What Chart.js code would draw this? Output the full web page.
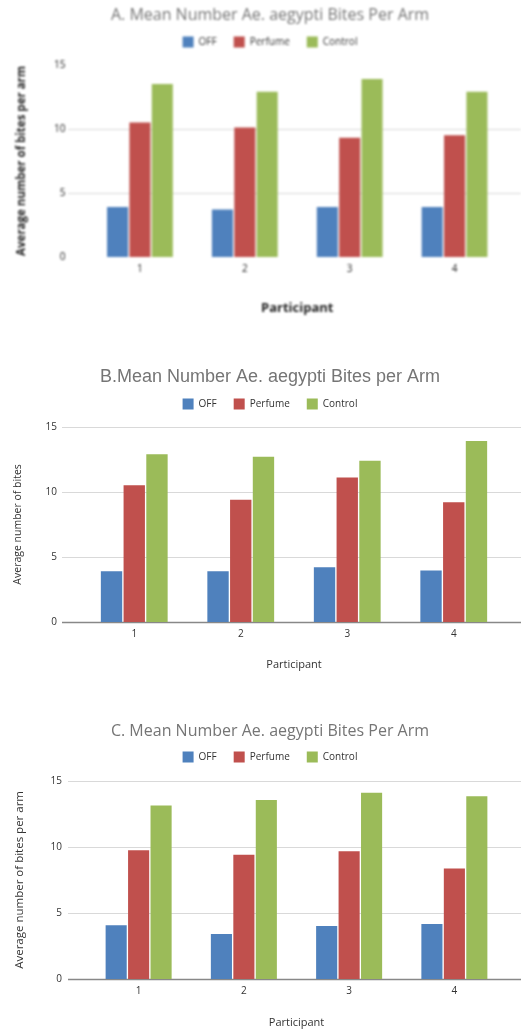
<!DOCTYPE html>
<html>
<head>
<meta charset="utf-8">
<script src="https://cdn.jsdelivr.net/npm/chart.js@4.4.0/dist/chart.umd.min.js"></script>
<style>
  body { margin: 0; background: #fff; width: 521px; height: 1030px; overflow: hidden; position: relative; }
  .box { position: absolute; left: 0; width: 521px; }
  #boxA { top: 0; height: 325px; filter: blur(1.2px); }
  #boxB { top: 360px; height: 320px; }
  #boxC { top: 710px; height: 320px; }
</style>
</head>
<body>
<div class="box" id="boxA"><canvas id="chartA"></canvas></div>
<div class="box" id="boxB"><canvas id="chartB"></canvas></div>
<div class="box" id="boxC"><canvas id="chartC"></canvas></div>
<script>
// categories + series names
var participants = ['1', '2', '3', '4'];
var seriesNames = ['OFF', 'Perfume', 'Control'];
var seriesColors = ['#4f81bd', '#c0504d', '#9bbb59'];
var yTicks = [0, 5, 10, 15];

// A. bites per arm (first figure, blurry)
var offA = [3.9, 3.7, 3.9, 3.9];
var perfumeA = [10.5, 10.1, 9.3, 9.5];
var controlA = [13.5, 12.9, 13.9, 12.9];

// B. bites per arm
var offB = [3.9, 3.9, 4.2, 3.95];
var perfumeB = [10.5, 9.4, 11.1, 9.2];
var controlB = [12.9, 12.7, 12.4, 13.9];

// C. bites per arm
var offC = [4.07, 3.4, 4.02, 4.17];
var perfumeC = [9.75, 9.4, 9.67, 8.37];
var controlC = [13.14, 13.54, 14.1, 13.84];

// horizontal gridlines that run past the category area like the sheets chart
var wideGrid = {
  id: 'wideGrid',
  beforeDatasetsDraw: function(chart, args, opts) {
    var y = chart.scales.y;
    var ctx = chart.ctx;
    ctx.save();
    y.ticks.forEach(function(t) {
      if (opts.skip.indexOf(t.value) >= 0) return;
      var py = Math.round(y.getPixelForValue(t.value)) + 0.5;
      ctx.strokeStyle = t.value === 0 ? opts.zeroColor : opts.color;
      ctx.lineWidth = t.value === 0 ? 1.5 : 1;
      ctx.beginPath();
      ctx.moveTo(opts.left, py);
      ctx.lineTo(chart.width, py);
      ctx.stroke();
    });
    ctx.restore();
  }
};

// empty axis used only as a spacer
function spacer(pos, size) {
  return {
    position: pos, display: true,
    grid: { display: false, drawTicks: false },
    border: { display: false },
    ticks: { display: false },
    afterFit: function(s) {
      if (pos === 'top') s.height = size; else s.width = size;
    }
  };
}

function makeChart(id, off, perfume, control, c) {
  var vals = [off, perfume, control];
  return new Chart(document.getElementById(id), {
    type: 'bar',
    data: {
      labels: participants,
      datasets: seriesNames.map(function(name, i) {
        return {
          label: name,
          data: vals[i],
          backgroundColor: seriesColors[i],
          categoryPercentage: 0.64,
          barPercentage: 0.94
        };
      })
    },
    options: {
      responsive: true,
      maintainAspectRatio: false,
      animation: false,
      layout: { padding: { top: 0, right: 0, bottom: 0, left: 19 } },
      plugins: {
        tooltip: { enabled: false },
        title: {
          display: true,
          text: c.title,
          color: '#757575',
          font: { family: c.titleFamily, size: c.titleSize, weight: 'normal' },
          padding: { top: c.titleTop, bottom: c.titleBottom }
        },
        legend: {
          labels: {
            boxWidth: 11, boxHeight: 11, padding: 17,
            color: '#333',
            font: { family: 'Open Sans', size: 10 }
          }
        },
        wideGrid: { left: c.gridLeft, color: '#d9d9d9', zeroColor: c.zeroColor, skip: c.skip }
      },
      scales: {
        x: {
          grid: { display: false, drawTicks: false },
          border: { display: false },
          ticks: { color: c.textColor, font: { family: 'Open Sans', size: 10 }, padding: 6 },
          title: {
            display: true, text: 'Participant', color: c.textColor,
            font: { family: 'Open Sans', size: c.xTitleSize, weight: c.xTitleWeight },
            padding: { top: 0, bottom: c.xTitleBottom }
          },
          afterFit: function(s) { s.height = c.xHeight; }
        },
        x2: spacer('top', c.topGap),
        y: {
          min: 0, max: 15,
          afterBuildTicks: function(s) { s.ticks = yTicks.map(function(v) { return { value: v }; }); },
          grid: { display: false, drawTicks: false },
          border: { display: false },
          ticks: { color: c.textColor, font: { family: 'Open Sans', size: 10 }, padding: c.yTickPad },
          title: {
            display: true, text: c.yTitle, color: c.textColor,
            font: { family: 'Open Sans', size: c.yTitleSize, weight: c.yTitleWeight },
            padding: { top: c.yTitleLeft, bottom: 0 }
          },
          afterFit: function(s) { s.width = c.yWidth; }
        },
        y2: spacer('right', 14)
      }
    },
    plugins: [wideGrid]
  });
}

makeChart('chartA', offA, perfumeA, controlA, {
  title: 'A. Mean Number Ae. aegypti Bites Per Arm', titleFamily: 'Open Sans', titleSize: 16,
  titleTop: 5.4, titleBottom: -5.1, topGap: 7.3,
  yTitle: 'Average number of bites per arm', yTitleSize: 11.5, yTitleWeight: 'bold', yTitleLeft: -4.2,
  xTitleSize: 13, xTitleWeight: 'bold', xTitleBottom: 9, xHeight: 68,
  textColor: '#222', yWidth: 68.5, yTickPad: 22, gridLeft: 68,
  zeroColor: 'rgba(0,0,0,0)', skip: [0, 15]
});

makeChart('chartB', offB, perfumeB, controlB, {
  title: 'B.Mean Number Ae. aegypti Bites per Arm', titleFamily: 'Liberation Sans', titleSize: 18,
  titleTop: 6.2, titleBottom: -6.3, topGap: 7.3,
  yTitle: 'Average number of bites', yTitleSize: 10.5, yTitleWeight: 'normal', yTitleLeft: -7.6,
  xTitleSize: 11, xTitleWeight: 'normal', xTitleBottom: 9, xHeight: 58,
  textColor: '#333', yWidth: 62, yTickPad: 24, gridLeft: 62,
  zeroColor: '#888', skip: []
});

makeChart('chartC', offC, perfumeC, controlC, {
  title: 'C. Mean Number Ae. aegypti Bites Per Arm', titleFamily: 'Open Sans', titleSize: 16,
  titleTop: 11.4, titleBottom: -6.1, topGap: 8.3,
  yTitle: 'Average number of bites per arm', yTitleSize: 11.5, yTitleWeight: 'normal', yTitleLeft: -6.5,
  xTitleSize: 11, xTitleWeight: 'normal', xTitleBottom: 1, xHeight: 51,
  textColor: '#333', yWidth: 67, yTickPad: 24, gridLeft: 68,
  zeroColor: '#888', skip: []
});
</script>
</body>
</html>
